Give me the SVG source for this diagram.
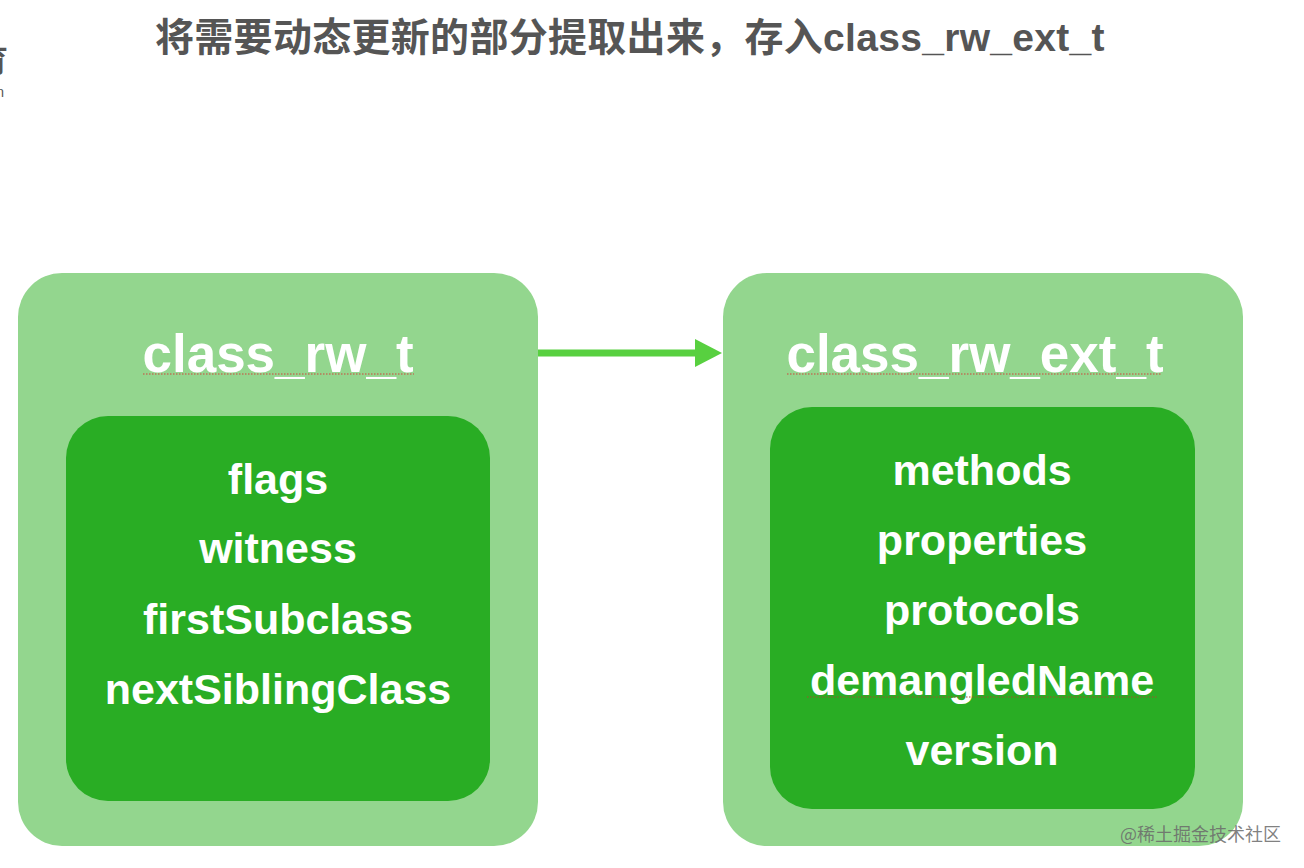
<svg xmlns="http://www.w3.org/2000/svg" width="1304" height="868" viewBox="0 0 1304 868">
<style>
.title{font-family:"Liberation Sans","Noto Sans CJK SC",sans-serif;font-weight:bold;font-size:39px;letter-spacing:0.3px;fill:#555555}
.head{font-family:"Liberation Sans","Noto Sans",sans-serif;font-weight:bold;font-size:53px;fill:#ffffff;text-anchor:middle}
.item{font-family:"Liberation Sans","Noto Sans",sans-serif;font-weight:bold;font-size:43px;fill:#ffffff;text-anchor:middle}
.outer{fill:#93d68e}
.inner{fill:#29ad24}
.squig{stroke:#d0453a;stroke-width:1.2;stroke-dasharray:1.5 1.5;fill:none}
.credit{font-family:"Noto Sans CJK SC",sans-serif;font-size:18px;fill:#6a6a6a;fill-opacity:0.85}
.frag{font-family:"Noto Sans CJK SC",sans-serif;font-weight:bold;fill:#555555}
</style>
<rect x="0" y="0" width="1304" height="868" fill="#ffffff"/>
<g id="edge-fragments">
<text class="frag" x="8" y="72" text-anchor="end" font-size="32">育</text>
<text x="4" y="97" text-anchor="end" style="font-family:'Liberation Sans',sans-serif;font-size:14px;fill:#555555">n</text>
</g>
<text id="title" class="title" x="155" y="51">将需要动态更新的部分提取出来，存入class_rw_ext_t</text>
<g id="connectors">
<line x1="536" y1="353" x2="697" y2="353" stroke="#58d040" stroke-width="7"/>
<polygon points="695,339 722,353 695,367" fill="#58d040"/>
</g>
<g id="node-class_rw_t">
<rect class="outer" x="18" y="273" width="520" height="573" rx="44" ry="44"/>
<text class="head" x="278" y="372">class_rw_t</text>
<line class="squig" x1="143" y1="374" x2="414" y2="374"/>
<rect class="inner" x="66" y="416" width="424" height="385" rx="42" ry="42"/>
<text class="item" x="278" y="494">flags</text>
<text class="item" x="278" y="563">witness</text>
<text class="item" x="278" y="634">firstSubclass</text>
<text class="item" x="278" y="704">nextSiblingClass</text>
</g>
<g id="node-class_rw_ext_t">
<rect class="outer" x="723" y="273" width="520" height="573" rx="44" ry="44"/>
<text class="head" x="975" y="372">class_rw_ext_t</text>
<line class="squig" x1="787" y1="374" x2="1162" y2="374"/>
<rect class="inner" x="770" y="407" width="425" height="402" rx="42" ry="42"/>
<text class="item" x="982" y="485">methods</text>
<text class="item" x="982" y="555">properties</text>
<text class="item" x="982" y="625">protocols</text>
<text class="item" x="982" y="695">demangledName</text>
<line class="squig" x1="807" y1="697" x2="1158" y2="697" style="stroke:#a0522d"/>
<text class="item" x="982" y="765">version</text>
</g>
<text id="credit" class="credit" x="1120" y="841">@稀土掘金技术社区</text>
</svg>
